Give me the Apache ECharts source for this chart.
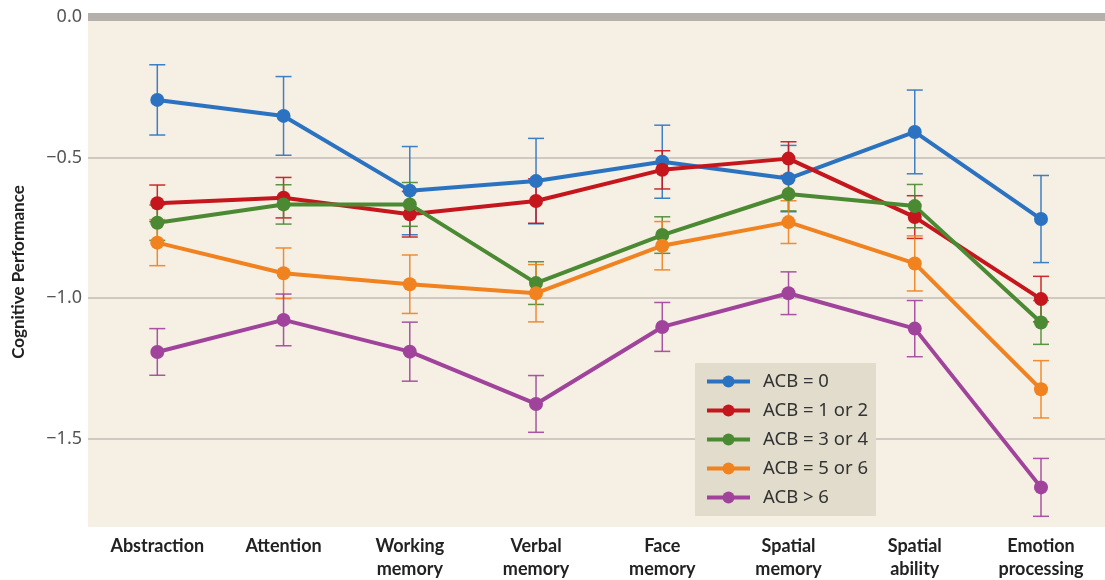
<!DOCTYPE html>
<html>
<head>
<meta charset="utf-8">
<script src="https://cdn.jsdelivr.net/npm/echarts@6/dist/echarts.min.js"></script>
<style>
html,body{margin:0;padding:0;background:#fff;}
#chart{width:1105px;height:580px;}
</style>
</head>
<body>
<div id="chart"></div>
<script>
// categories and values
var categories = ['Abstraction', 'Attention', 'Working\nmemory', 'Verbal\nmemory', 'Face\nmemory', 'Spatial\nmemory', 'Spatial\nability', 'Emotion\nprocessing'];
var groupNames = ['ACB = 0', 'ACB = 1 or 2', 'ACB = 3 or 4', 'ACB = 5 or 6', 'ACB > 6'];
var acb0 = [-0.295, -0.352, -0.618, -0.584, -0.515, -0.575, -0.409, -0.719];
var acb0Err = [0.125, 0.14, 0.157, 0.152, 0.13, 0.118, 0.149, 0.155];
var acb12 = [-0.663, -0.643, -0.702, -0.655, -0.544, -0.504, -0.712, -1.004];
var acb12Err = [0.065, 0.072, 0.081, 0.079, 0.068, 0.06, 0.076, 0.081];
var acb34 = [-0.732, -0.667, -0.667, -0.947, -0.776, -0.63, -0.673, -1.087];
var acb34Err = [0.063, 0.07, 0.078, 0.076, 0.065, 0.06, 0.077, 0.078];
var acb56 = [-0.803, -0.912, -0.951, -0.983, -0.814, -0.73, -0.877, -1.325];
var acb56Err = [0.082, 0.09, 0.104, 0.102, 0.086, 0.076, 0.098, 0.102];
var acb6plus = [-1.192, -1.078, -1.191, -1.377, -1.103, -0.983, -1.109, -1.674];
var acb6plusErr = [0.083, 0.092, 0.105, 0.101, 0.087, 0.076, 0.1, 0.103];
var yTicks = [0, -0.5, -1.0, -1.5];

var colors = ['#2b73c0', '#c4161c', '#4b8a33', '#f0821f', '#a0449b'];
var means = [acb0, acb12, acb34, acb56, acb6plus];
var errs = [acb0Err, acb12Err, acb34Err, acb56Err, acb6plusErr];
var yMin = -1.815;   // bottom of the beige panel
var tickMin = -2.0;  // tick axis runs a bit further so ticks land on 0.5 steps

function fmtY(v) {
	var r = Math.round(v * 10) / 10;
	if (yTicks.indexOf(r) == -1) return '';
	return (r < 0 ? '\u2212' : '') + Math.abs(r).toFixed(1);
}

function errBarRender(color) {
	return function (params, api) {
		var x = api.value(0);
		var top = api.coord([x, api.value(2)]);
		var bot = api.coord([x, api.value(1)]);
		var w = 8;
		var st = {stroke: color, lineWidth: 1.5, opacity: 0.9};
		return {
			type: 'group',
			children: [
				{type: 'line', shape: {x1: top[0], y1: top[1], x2: bot[0], y2: bot[1]}, style: st},
				{type: 'line', shape: {x1: top[0] - w, y1: top[1], x2: top[0] + w, y2: top[1]}, style: st},
				{type: 'line', shape: {x1: bot[0] - w, y1: bot[1], x2: bot[0] + w, y2: bot[1]}, style: st}
			]
		};
	};
}

var series = [];
for (var i = 0; i < means.length; i++) {
	var eb = [];
	for (var j = 0; j < categories.length; j++) {
		eb.push([j, means[i][j] - errs[i][j], means[i][j] + errs[i][j]]);
	}
	series.push({
		name: 'err' + i,
		type: 'custom',
		xAxisIndex: 2,
		yAxisIndex: 2,
		renderItem: errBarRender(colors[i]),
		data: eb,
		silent: true,
		z: 3
	});
	series.push({
		name: groupNames[i],
		type: 'line',
		xAxisIndex: 2,
		yAxisIndex: 2,
		data: means[i],
		color: colors[i],
		symbol: 'circle',
		symbolSize: 14,
		lineStyle: {width: 4},
		itemStyle: {color: colors[i]},
		z: 4
	});
}

var myChart = echarts.init(document.getElementById('chart'));
window.addEventListener("resize", function () {
	myChart.resize();
});

var option = {
	backgroundColor: '#ffffff',
	animation: false,
	textStyle: {fontFamily: '"Noto Sans", sans-serif'},
	grid: [
		// beige panel
		{left: 88, right: 0, top: 17, bottom: 53, show: true, backgroundColor: '#f5efe4', borderWidth: 0, outerBoundsMode: 'none', containLabel: false},
		// ticks + gridlines (runs to -2.0 below the panel)
		{left: 88, right: 0, top: 17, bottom: 1, outerBoundsMode: 'none', containLabel: false},
		// data
		{left: 157.3, right: 64, top: 17, bottom: 53, outerBoundsMode: 'none', containLabel: false}
	],
	legend: {
		data: groupNames,
		orient: 'vertical',
		left: 695,
		top: 363,
		width: 182,
		backgroundColor: '#e1dccb',
		padding: [9, 8, 9, 10],
		itemWidth: 43,
		itemHeight: 15,
		itemGap: 10,
		lineStyle: {width: 4},
		textStyle: {fontSize: 18.5, color: '#333', lineHeight: 16, padding: [0, 0, 0, 8], fontFamily: '"Noto Sans", sans-serif'}
	},
	xAxis: [
		{gridIndex: 0, type: 'value', min: 0, max: 1, position: 'top',
			axisLine: {show: true, lineStyle: {color: '#b5b0ab', width: 8, cap: 'butt'}},
			axisTick: {show: false}, axisLabel: {show: false}, splitLine: {show: false}},
		{gridIndex: 1, type: 'value', min: 0, max: 1, show: false},
		{
			gridIndex: 2,
			type: 'category',
			position: 'bottom',
			data: categories,
			boundaryGap: false,
			axisLine: {show: false},
			axisTick: {show: false},
			axisLabel: {
				interval: 0,
				margin: 8,
				fontSize: 18,
				fontWeight: 'bold',
				color: '#222',
				lineHeight: 23,
				fontFamily: 'Lato, sans-serif'
			}
		}
	],
	yAxis: [
		{
			gridIndex: 0,
			type: 'value',
			min: yMin,
			max: 0,
			name: 'Cognitive Performance',
			nameLocation: 'middle',
			nameGap: 61,
			nameTextStyle: {fontSize: 17, fontWeight: 'bold', color: '#222', fontFamily: 'Lato, sans-serif'},
			axisLine: {show: false},
			axisTick: {show: false},
			axisLabel: {show: false},
			splitLine: {show: false}
		},
		{
			gridIndex: 1,
			type: 'value',
			min: tickMin,
			max: 0,
			interval: 0.5,
			axisLine: {show: false},
			axisTick: {show: false},
			axisLabel: {fontSize: 18, color: '#555', margin: 6, formatter: fmtY, showMinLabel: false},
			splitLine: {show: true, showMinLine: false, showMaxLine: false, lineStyle: {color: '#c3bdb6', width: 1.5}}
		},
		{gridIndex: 2, type: 'value', min: yMin, max: 0, show: false}
	],
	series: series
};
myChart.setOption(option);
</script>
</body>
</html>
